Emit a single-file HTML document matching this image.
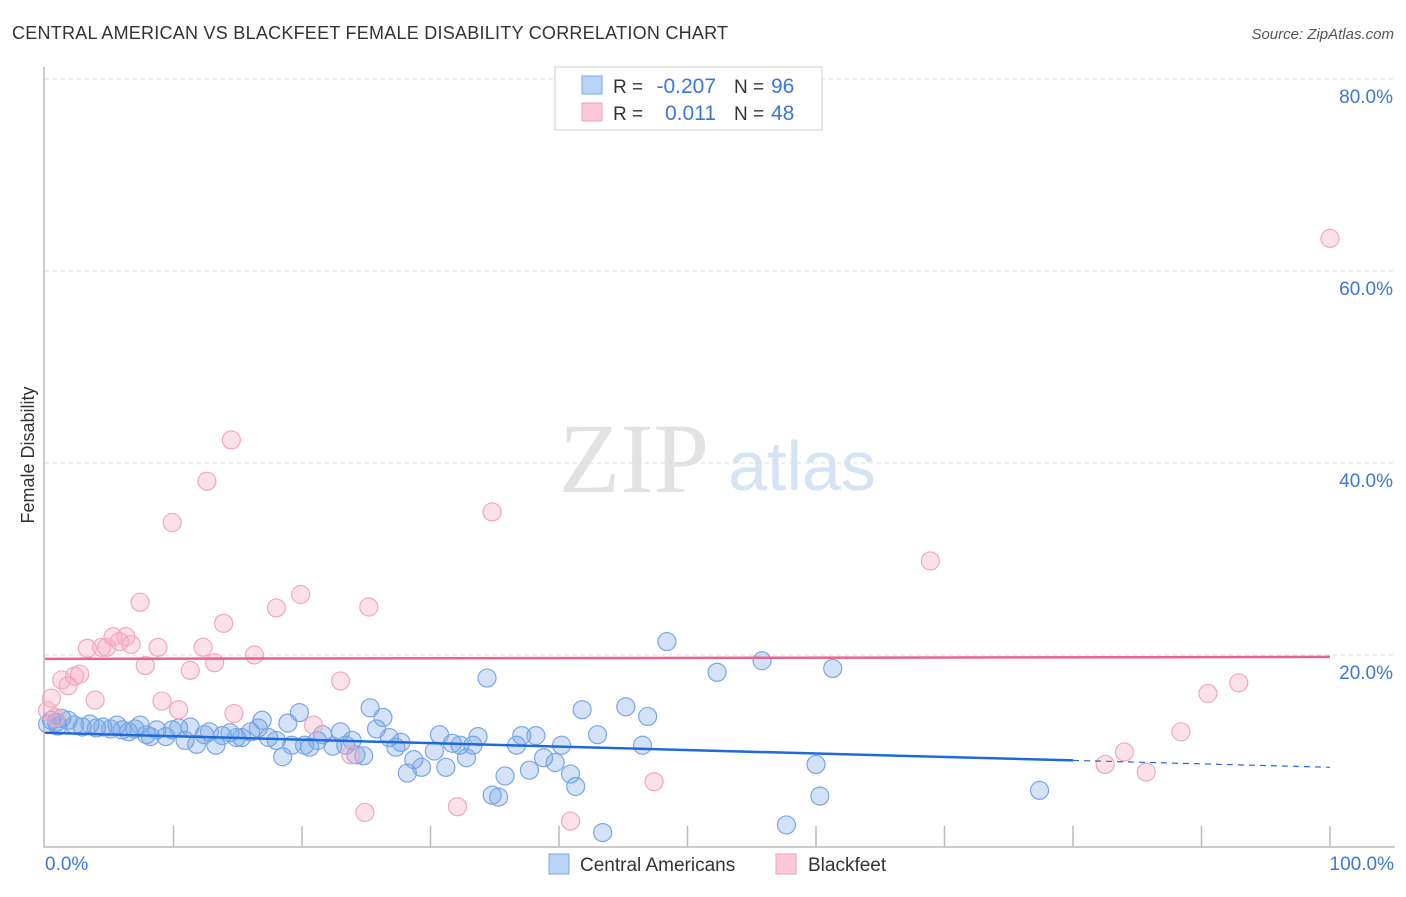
<!DOCTYPE html>
<html><head><meta charset="utf-8"><style>
body{margin:0;background:#fff;font-family:"Liberation Sans",sans-serif}
</style></head><body>
<svg id="c" width="1406" height="892" font-family="Liberation Sans, sans-serif">
<text x="12" y="39" font-size="18" fill="#333" textLength="716">CENTRAL AMERICAN VS BLACKFEET FEMALE DISABILITY CORRELATION CHART</text>
<text x="1394" y="39" font-size="15" fill="#555" font-style="italic" text-anchor="end">Source: ZipAtlas.com</text>
<text x="634" y="492" font-size="100" fill="#e2e2e2" style="font-family:'Liberation Serif',serif" text-anchor="middle">ZIP</text>
<text x="802" y="490" font-size="70" fill="#d6e3f5" text-anchor="middle">atlas</text>
<text transform="translate(34,455) rotate(-90)" font-size="18" fill="#333" text-anchor="middle">Female Disability</text>
<g id="grid"></g><g id="pts"></g><g id="trend"></g>
<g>
<rect x="555" y="67" width="267" height="63" fill="#fff" stroke="#ccc"/>
<rect x="582" y="76" width="20" height="18" fill="#b9d3f5" stroke="#7aa6e6"/>
<rect x="582" y="103" width="20" height="18" fill="#fbc9d7" stroke="#f0a0b8"/>
<text x="613" y="93" font-size="19" fill="#333">R =</text>
<text x="716" y="93" font-size="21" fill="#3a78d8" text-anchor="end">-0.207</text>
<text x="734" y="93" font-size="19" fill="#333">N =</text>
<text x="771" y="93" font-size="21" fill="#3a78d8">96</text>
<text x="613" y="120" font-size="19" fill="#333">R =</text>
<text x="716" y="120" font-size="21" fill="#3a78d8" text-anchor="end">0.011</text>
<text x="734" y="120" font-size="19" fill="#333">N =</text>
<text x="771" y="120" font-size="21" fill="#3a78d8">48</text>
</g>
<g>
<rect x="549" y="854" width="20" height="20" fill="#b9d3f5" stroke="#7aa6e6"/>
<text x="580" y="871" font-size="19" fill="#333">Central Americans</text>
<rect x="776" y="854" width="20" height="20" fill="#fbc9d7" stroke="#f0a0b8"/>
<text x="808" y="871" font-size="19" fill="#333">Blackfeet</text>
</g>
</svg>
<script>
const yTicks=[20,40,60,80];
const xTickLabels=["0.0%","100.0%"];
const blueX=[0.5,0.9,1.3,1.8,2.3,2.9,3.5,4.0,4.5,5.1,5.6,6.0,6.5,7.0,7.4,7.9,8.2,8.7,9.4,9.9,10.4,10.9,11.3,11.8,12.4,12.8,13.3,13.8,14.4,14.9,15.3,16.0,16.6,16.9,17.4,18.0,18.5,18.9,19.2,19.8,20.2,20.6,21.2,21.6,22.4,23.0,23.4,23.9,24.2,24.8,25.3,25.8,26.3,26.8,27.3,27.7,28.2,28.7,29.3,30.3,30.7,31.2,31.7,32.3,32.8,33.3,33.7,34.4,34.8,35.3,35.8,36.7,37.1,37.7,38.2,38.8,39.7,40.2,40.9,41.3,41.8,43.0,43.4,45.2,46.5,46.9,48.4,52.3,55.8,57.7,60.0,60.3,61.3,77.4,0.2,1.0];
const blueY=[13.2,13.0,13.4,13.2,12.7,12.5,12.8,12.4,12.5,12.3,12.7,12.2,12.0,12.3,12.7,11.7,11.5,12.2,11.5,12.2,12.4,11.1,12.5,10.7,11.7,12.0,10.6,11.6,11.9,11.4,11.4,12.0,12.4,13.2,11.4,11.1,9.4,12.9,10.6,14.0,10.6,10.4,11.1,11.7,10.5,12.0,10.6,11.1,9.6,9.5,14.5,12.3,13.5,11.4,10.4,10.9,7.7,9.1,8.3,10.0,11.7,8.3,10.8,10.6,9.3,10.6,11.5,17.6,5.4,5.2,7.4,10.6,11.6,8.0,11.6,9.3,8.8,10.6,7.6,6.3,14.3,11.7,1.5,14.6,10.6,13.6,21.4,18.2,19.4,2.3,8.6,5.3,18.6,5.9,12.8,12.6];
const pinkX=[0.5,0.8,1.3,1.8,2.3,2.7,3.3,3.9,4.4,4.8,5.3,5.8,6.3,6.7,7.4,7.8,8.8,9.1,9.9,10.4,11.3,12.3,12.6,13.2,13.9,14.5,14.7,16.3,18.0,19.9,20.9,23.0,23.8,24.9,25.2,32.1,34.8,40.9,47.4,68.9,82.5,84.0,85.7,88.4,90.5,92.9,100.0,0.2];
const pinkY=[15.5,13.5,17.4,16.8,17.8,18.0,20.7,15.3,20.8,20.8,21.9,21.4,21.9,21.1,25.5,18.9,20.8,15.2,33.8,14.3,18.4,20.8,38.1,19.2,23.3,42.4,13.9,20.0,24.9,26.3,12.7,17.3,9.6,3.6,25.0,4.2,34.9,2.7,6.8,29.8,8.6,9.9,7.8,12.0,16.0,17.1,63.4,14.2];
const blueTrend=[11.9,8.3];
const pinkTrend=[19.6,19.8];
const NS="http://www.w3.org/2000/svg";
const X=v=>45+v*12.85, Y=v=>847-v*9.6;
function mk(p,t,a){const e=document.createElementNS(NS,t);for(const k in a)e.setAttribute(k,a[k]);p.appendChild(e);return e;}
const g=document.getElementById('grid');
yTicks.forEach(t=>{
 const l=mk(g,'line',{x1:45,x2:1395,y1:Y(t),y2:Y(t),stroke:'#ddd','stroke-dasharray':'4,4'});
 
 
 const tx=mk(g,'text',{x:1393,y:Y(t)+24,'font-size':19,fill:'#3a78d8','text-anchor':'end'});tx.textContent=t.toFixed(1)+'%';
 
 
});
const ax=mk(g,'path',{d:'M44,67V847H1395',stroke:'#bbb',fill:'none','stroke-width':1.5});


for(let i=1;i<=10;i++){const t=mk(g,'line',{x1:X(i*10),x2:X(i*10),y1:826,y2:847,stroke:'#bbb','stroke-width':1.5});
 
 }
[[0,'start',45],[100,'end',1394]].forEach((d,i)=>{const t=mk(g,'text',{x:d[2],y:870,'font-size':19,fill:'#3a78d8','text-anchor':d[1]});t.textContent=xTickLabels[i];
 
 });
const p=document.getElementById('pts');
blueX.forEach((x,i)=>{const c=mk(p,'circle',{cx:X(x),cy:Y(blueY[i]),r:9,fill:'rgba(110,160,230,0.3)',stroke:'#7aa6e6','stroke-width':1.2});
 
 });
pinkX.forEach((x,i)=>{const c=mk(p,'circle',{cx:X(x),cy:Y(pinkY[i]),r:9,fill:'rgba(248,170,195,0.35)',stroke:'#f0a8be','stroke-width':1.2});
 
 });
const tr=document.getElementById('trend');
const bAt=x=>blueTrend[0]+(blueTrend[1]-blueTrend[0])*x/100;
const b1=mk(tr,'line',{x1:X(0),y1:Y(bAt(0)),x2:X(80),y2:Y(bAt(80)),stroke:'#1f6ad8','stroke-width':2.5});


const b2=mk(tr,'line',{x1:X(80),y1:Y(bAt(80)),x2:X(100),y2:Y(bAt(100)),stroke:'#1f6ad8','stroke-width':1.2,'stroke-dasharray':'6,5'});


const pl=mk(tr,'line',{x1:X(0),y1:Y(pinkTrend[0]),x2:X(100),y2:Y(pinkTrend[1]),stroke:'#e8628c','stroke-width':2.5});


</script>
</body></html>
